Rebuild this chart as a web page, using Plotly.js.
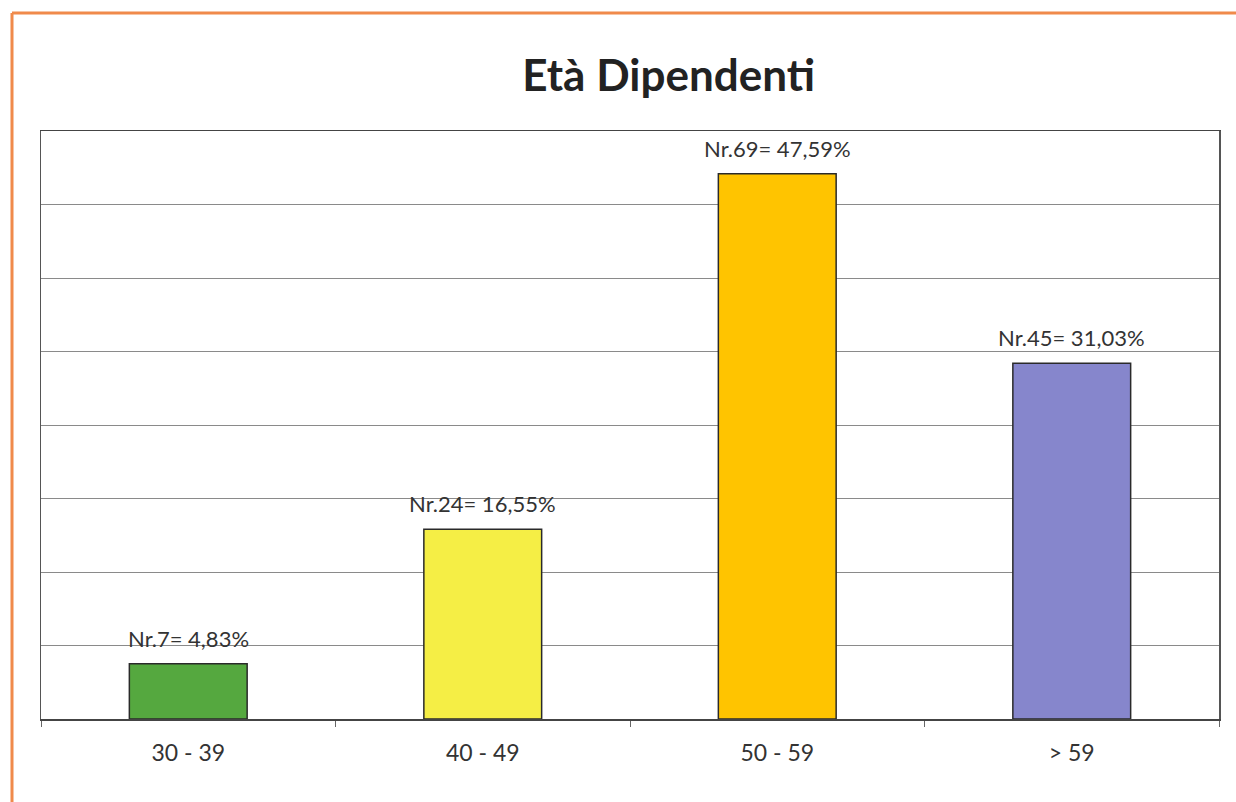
<!DOCTYPE html>
<html><head><meta charset="utf-8">
<script src="https://cdn.plot.ly/plotly-3.0.1.min.js"></script>
<style>html,body{margin:0;padding:0;background:#fff;}#chart{width:1236px;height:802px;}</style>
</head><body><div id="chart"></div>
<script>
const categories = ["30 - 39", "40 - 49", "50 - 59", "> 59"];
const counts = [7, 24, 69, 45];
const percents = ["4,83%", "16,55%", "47,59%", "31,03%"];
const barColors = ["#55a83f", "#f5ee45", "#ffc400", "#8686cc"];

const labels = counts.map((n, i) => "Nr." + n + "= " + percents[i]);
const FONT = "Lato, 'Open Sans', sans-serif";

const trace = {
  type: "bar",
  x: categories,
  y: counts,
  marker: {color: barColors, line: {color: "#2a2a2a", width: 1.5}},
  hoverinfo: "skip"
};

const L = 41, R = 17, T = 131, B = 83;
const pw = 1236 - L - R, ph = 802 - T - B;
const px = v => (v - L) / pw;
const py = v => 1 - (v - T) / ph;

const annotations = categories.map((c, i) => ({
  x: c, y: counts[i], xref: "x", yref: "y",
  text: labels[i], showarrow: false, yanchor: "bottom", yshift: 10,
  font: {family: FONT, size: 22, color: "#333"}
}));

const layout = {
  width: 1236, height: 802,
  margin: {l: L, r: R, t: T, b: B},
  paper_bgcolor: "#ffffff",
  plot_bgcolor: "#ffffff",
  showlegend: false,
  bargap: 0.6,
  title: {text: "Età Dipendenti", x: 0.541, xanchor: "center", y: 0.906, yanchor: "middle",
          font: {family: FONT, size: 44, color: "#222", weight: 700}},
  xaxis: {
    type: "category",
    showline: true, linecolor: "#444", linewidth: 1.5, mirror: true,
    ticks: "outside", tickson: "boundaries", ticklen: 6, tickcolor: "#666",
    ticklabelstandoff: 13,
    tickfont: {family: FONT, size: 23, color: "#333"},
    showgrid: false, fixedrange: true
  },
  yaxis: {
    range: [0, 74.4], tick0: 0, dtick: 9.3,
    showticklabels: false, ticks: "",
    showgrid: true, gridcolor: "#8a8a8a", gridwidth: 1,
    showline: true, linecolor: "#555", linewidth: 1.5, mirror: true,
    zeroline: false, fixedrange: true
  },
  annotations: annotations,
  shapes: [
    {type: "line", xref: "paper", yref: "paper", x0: px(12), x1: px(1240), y0: py(13), y1: py(13),
     line: {color: "#f08a4b", width: 3}},
    {type: "line", xref: "paper", yref: "paper", x0: px(12), x1: px(12), y0: py(13), y1: py(805),
     line: {color: "#f08a4b", width: 3}}
  ]
};

Plotly.newPlot("chart", [trace], layout, {displayModeBar: false, staticPlot: true});
</script>
</body></html>
